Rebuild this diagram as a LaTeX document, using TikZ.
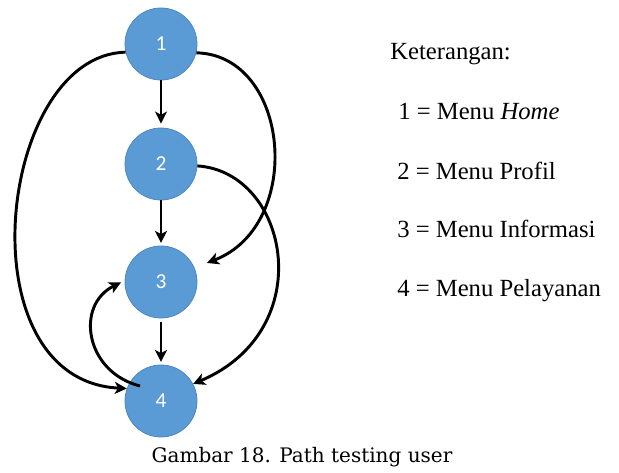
\documentclass[tikz,border=0pt]{standalone}
\usepackage{fontspec}
\setmainfont{Liberation Serif}
\newfontfamily\digitfont{Carlito}
\newfontfamily\capfont{DejaVu Serif}
\usetikzlibrary{arrows.meta,calc}
\definecolor{nodeblue}{HTML}{5B9BD5}
\definecolor{nodeedge}{HTML}{4F86BF}
\tikzset{
  state/.style={circle, fill=nodeblue, draw=nodeedge, line width=0.6pt, minimum size=54pt, inner sep=0pt, text=white, font=\digitfont\fontsize{16}{18}\selectfont},
  edge/.style={line width=2.2pt, -{Stealth[length=9pt,width=9pt,inset=2.4pt]}},
  legend/.style={anchor=base west, inner sep=0pt, font=\fontsize{18.5}{20}\selectfont}
}
\begin{document}
\begin{tikzpicture}[x=0.75pt,y=-0.75pt]
\useasboundingbox (0,0) rectangle (619,473);
\node[state] (n1) at (161,44) {1};
\node[state] (n2) at (161,164) {2};
\node[state] (n3) at (161,282) {3};
\node[state] (n4) at (161,401) {4};

\draw[edge, shorten >=3pt] (n1.south) -- (n2.north);
\draw[edge, shorten >=2pt] (n2.south) -- (n3.north);
\draw[edge, shorten <=3pt, shorten >=2pt] (n3.south) -- (n4.north);

\draw[edge] (n1.193) .. controls (-2,55) and (-38,380) .. (n4.160);
\draw[edge, shorten >=10pt] (n1.346) .. controls (290,55) and (305,225) .. (n3.23);
\draw[edge] (n2.357) .. controls (289,172) and (320,330) .. (n4.28);
\draw[edge, shorten >=3pt] ($(n4)+(-21,-15)$) .. controls (85,372) and (75,305) .. (n3.178);

\node[legend] (k) at (390,60) {Keterangan:};
\node[legend] (l1) at (398,120) {1 = Menu \textit{Home}};
\node[legend] (l2) at (397,180) {2 = Menu Profil};
\node[legend] (l3) at (397,238) {3 = Menu Informasi};
\node[legend] (l4) at (397,297) {4 = Menu Pelayanan};

\node[anchor=base, inner sep=0pt, font=\capfont\fontsize{15}{17}\selectfont] (cap) at (302,463) {Gambar 18. Path testing user};
\end{tikzpicture}
\end{document}
